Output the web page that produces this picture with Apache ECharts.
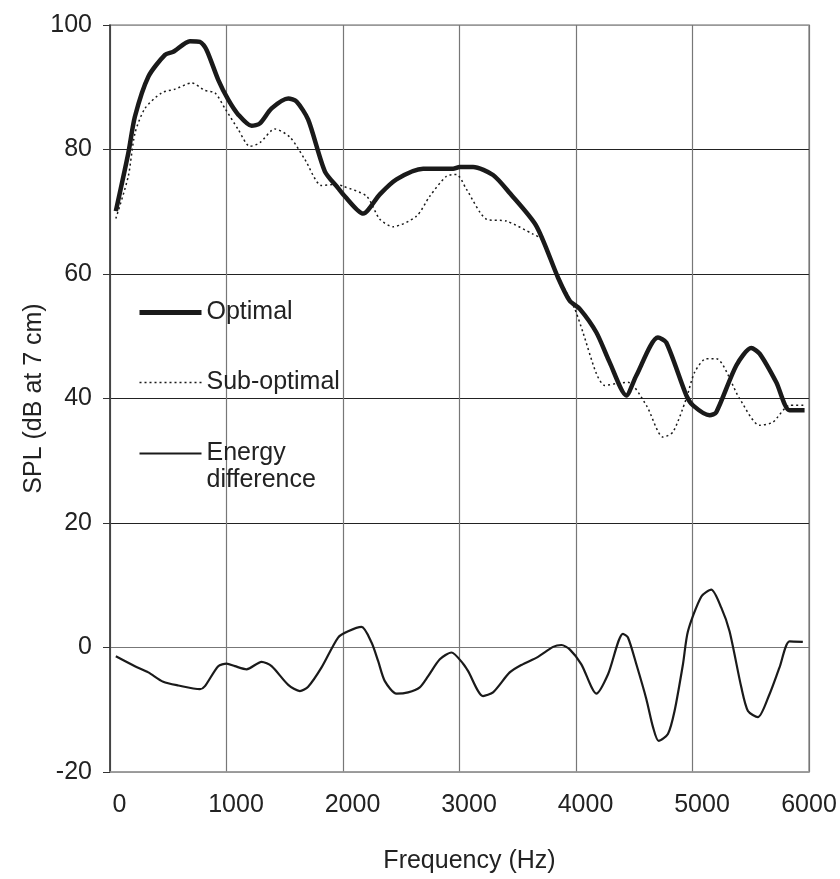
<!DOCTYPE html>
<html>
<head>
<meta charset="utf-8">
<script src="https://cdn.jsdelivr.net/npm/echarts@6/dist/echarts.min.js"></script>
<style>
  html, body { margin: 0; padding: 0; background: #fff; }
  #chart { width: 840px; height: 879px; }
</style>
</head>
<body>
<div id="chart"></div>
<script>
// values (Hz, dB)
var optFreq = [50, 157, 214, 329, 472, 543, 686, 772, 829, 929, 1015, 1101, 1215, 1287, 1387, 1530, 1601, 1701, 1844, 1958, 2001, 2173, 2316, 2459, 2688, 2945, 3002, 3117, 3288, 3431, 3660, 3846, 3946, 4032, 4175, 4289, 4432, 4518, 4703, 4775, 4947, 5004, 5147, 5204, 5376, 5504, 5576, 5719, 5833, 5962];
var optSpl = [70.1, 79.4, 85.3, 91.7, 95.2, 95.7, 97.4, 97.3, 96.0, 91.2, 88.0, 85.6, 83.8, 84.2, 86.6, 88.2, 87.7, 84.8, 76.5, 73.8, 72.8, 69.7, 72.8, 75.2, 76.9, 76.9, 77.2, 77.2, 75.9, 73.0, 67.7, 59.4, 55.7, 54.4, 50.6, 45.8, 40.5, 43.7, 49.8, 49.0, 40.5, 38.9, 37.3, 37.8, 45.3, 48.1, 47.2, 42.6, 38.1, 38.1];

var subFreq = [50, 157, 214, 300, 443, 558, 701, 815, 901, 987, 1101, 1201, 1287, 1415, 1544, 1673, 1816, 1930, 2001, 2202, 2316, 2430, 2631, 2745, 2888, 2974, 3060, 3231, 3403, 3631, 3703, 3846, 3989, 4060, 4175, 4246, 4347, 4446, 4604, 4747, 4832, 4947, 5018, 5118, 5204, 5404, 5576, 5690, 5833, 5962];
var subSpl = [68.9, 75.7, 82.6, 86.6, 89.1, 89.7, 90.7, 89.5, 89.1, 86.6, 83.2, 80.5, 81.1, 83.3, 82.0, 78.4, 74.2, 74.4, 74.1, 72.5, 68.8, 67.6, 69.3, 72.5, 75.7, 76.0, 73.6, 68.8, 68.5, 66.4, 65.6, 59.6, 54.4, 50.6, 44.0, 42.1, 42.4, 42.6, 38.9, 33.8, 34.6, 40.0, 44.2, 46.4, 46.4, 40.0, 35.7, 36.2, 38.9, 38.9];

var diffFreq = [50, 214, 329, 457, 586, 772, 815, 929, 1001, 1072, 1172, 1301, 1387, 1530, 1630, 1701, 1816, 1958, 2044, 2159, 2245, 2302, 2359, 2459, 2559, 2659, 2731, 2831, 2931, 3031, 3074, 3202, 3288, 3431, 3532, 3674, 3803, 3875, 3946, 4046, 4175, 4275, 4403, 4446, 4518, 4604, 4661, 4709, 4789, 4846, 4918, 4961, 5076, 5161, 5247, 5318, 5419, 5476, 5561, 5661, 5747, 5833, 5947];
var diffVal = [-1.4, -3.0, -4.0, -5.5, -6.1, -6.7, -6.2, -3.0, -2.6, -3.0, -3.5, -2.3, -3.0, -6.0, -7.0, -6.3, -3.2, 1.6, 2.6, 3.3, 0.8, -2.2, -5.4, -7.4, -7.2, -6.4, -4.6, -1.9, -0.8, -2.6, -3.8, -7.8, -7.2, -4.0, -2.8, -1.5, 0.1, 0.4, -0.3, -2.7, -7.4, -4.3, 2.2, 1.6, -2.7, -8.3, -12.8, -15.0, -13.9, -10.2, -2.7, 2.6, 8.2, 9.3, 6.4, 2.6, -6.4, -10.2, -11.2, -7.5, -3.2, 1.0, 0.9];

var yTickColors = ['#999', '#777', '#222', '#222', '#222', '#222', '#999'];

function pairs(xs, ys) {
    var out = [];
    for (var i = 0; i < xs.length; i++) {
        out.push([xs[i], ys[i]]);
    }
    return out;
}

var myChart = echarts.init(document.getElementById('chart'));
var font = '"Liberation Sans", Arial, sans-serif';

var option = {
    backgroundColor: '#fff',
    animation: false,
    textStyle: { fontFamily: font },
    grid: {
        left: 110, top: 25, right: 31, bottom: 105,
        show: true, borderColor: '#999', borderWidth: 1.5
    },
    legend: {
        orient: 'vertical',
        left: 132, top: 268,
        itemWidth: 62, itemHeight: 14,
        itemGap: 17,
        itemStyle: { opacity: 0 },
        textStyle: { fontSize: 25, lineHeight: 27, color: '#222', fontFamily: font },
        // blank first line so the icon sits level with "Energy"
        formatter: function (name) {
            return name === 'Energy difference' ? '\nEnergy\ndifference' : name;
        },
        data: [
            { name: 'Optimal', lineStyle: { width: 5 }, textStyle: { padding: [26, 0, 26, 0] } },
            { name: 'Sub-optimal', lineStyle: { width: 1.5, type: [2, 3] } },
            { name: 'Energy difference', lineStyle: { width: 2.2 } }
        ]
    },
    xAxis: {
        type: 'value',
        min: 0, max: 6000, interval: 1000,
        name: 'Frequency (Hz)',
        nameLocation: 'middle',
        nameGap: 77,
        nameMoveOverlap: false,
        nameTextStyle: { fontSize: 25, color: '#222', fontFamily: font, padding: [0, 0, 0, 20] },
        axisLine: { show: true, onZero: false, lineStyle: { color: '#999', width: 1.5 } },
        axisTick: { show: false },
        axisLabel: {
            fontSize: 25, color: '#222', margin: 21, fontFamily: font,
            formatter: function (v) {
                return v === 6000 ? '{e|' + v + '}' : '{n|' + v + '}';
            },
            rich: {
                n: { fontSize: 25, color: '#222', fontFamily: font, padding: [0, 0, 0, 19] },
                e: { fontSize: 25, color: '#222', fontFamily: font, padding: [0, 0, 6, 0] }
            }
        },
        splitLine: { show: true, lineStyle: { color: '#777', width: 1.2 } }
    },
    yAxis: {
        type: 'value',
        min: -20, max: 100, interval: 20,
        name: 'SPL (dB at 7 cm)',
        nameLocation: 'middle',
        nameGap: 63,
        nameMoveOverlap: false,
        nameTextStyle: { fontSize: 25, color: '#222', fontFamily: font },
        axisLine: { show: true, lineStyle: { color: '#333', width: 1.5 } },
        axisTick: { show: true, inside: false, length: 7, lineStyle: { color: '#333' } },
        axisLabel: { fontSize: 25, color: '#222', margin: 18, fontFamily: font },
        splitLine: { show: true, lineStyle: { color: yTickColors, width: 1.2 } }
    },
    series: [
        {
            name: 'Optimal',
            type: 'line',
            data: pairs(optFreq, optSpl),
            symbol: 'none',
            smooth: 0.25,
            lineStyle: { color: '#1a1a1a', width: 4.5 },
            itemStyle: { color: '#1a1a1a' }
        },
        {
            name: 'Sub-optimal',
            type: 'line',
            data: pairs(subFreq, subSpl),
            symbol: 'none',
            smooth: 0.25,
            lineStyle: { color: '#1a1a1a', width: 1.5, type: [2, 3] },
            itemStyle: { color: '#1a1a1a' }
        },
        {
            name: 'Energy difference',
            type: 'line',
            data: pairs(diffFreq, diffVal),
            symbol: 'none',
            smooth: 0.25,
            lineStyle: { color: '#1a1a1a', width: 2.2 },
            itemStyle: { color: '#1a1a1a' }
        }
    ]
};
myChart.setOption(option);
</script>
</body>
</html>
